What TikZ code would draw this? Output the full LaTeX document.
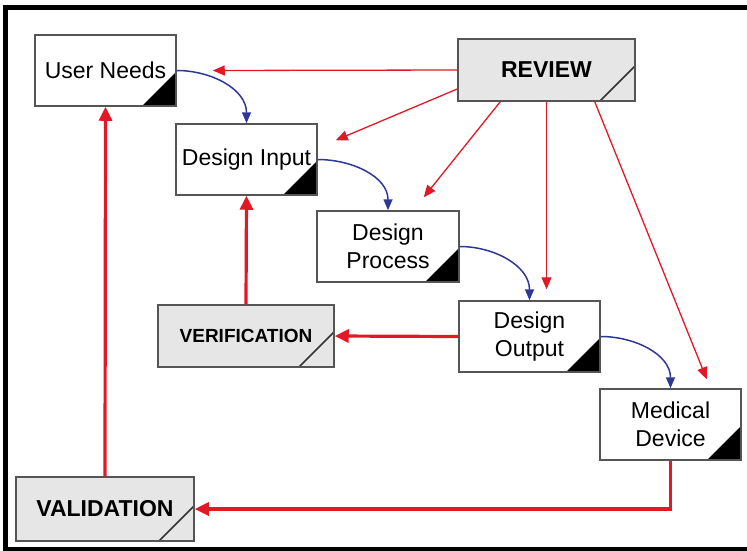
\documentclass[tikz,border=0pt]{standalone}
\usepackage{fontspec}
\setmainfont{Liberation Sans}
\usetikzlibrary{arrows.meta}

\definecolor{flowred}{RGB}{226,24,38}
\definecolor{flowblue}{RGB}{45,55,150}
\definecolor{boxgray}{RGB}{230,230,230}
\definecolor{edgegray}{RGB}{85,85,85}

\tikzset{
  stage/.style={draw=edgegray,line width=1.5pt,fill=white,minimum width=141pt,minimum height=71pt,
    align=center,inner sep=0pt,font=\fontsize{23}{28}\selectfont,
    path picture={\fill[black] (path picture bounding box.south east) -- ++(-34pt,0pt) -- ++(34pt,34pt) -- cycle;}},
  check/.style={draw=edgegray,line width=1.5pt,fill=boxgray,inner sep=0pt,font=\fontsize{23}{28}\selectfont\bfseries,
    path picture={\draw[line width=1.5pt,black!80] ([xshift=-35pt]path picture bounding box.south east) -- ([yshift=35pt]path picture bounding box.south east);}},
  blueflow/.style={flowblue,line width=1.5pt,-{Triangle[length=11pt,width=9pt]}},
  redthin/.style={flowred,line width=1.3pt,-{Triangle[length=12pt,width=10pt]}},
  redthick/.style={flowred,line width=3.2pt,-{Triangle[length=14pt,width=13pt]}}
}

\begin{document}
\begin{tikzpicture}[x=1pt,y=1pt]
\useasboundingbox (0,0) rectangle (747,-550);
\draw[line width=5pt] (747,-7.5) -- (5.5,-7.5) -- (5.5,-549.5) -- (747,-549.5);

\node[stage] (needs) at (105.5,-70.5) {User Needs};
\node[stage] (input) at (246.5,-159.5) {Design Input};
\node[stage,minimum width=142pt] (process) at (388,-246.5) {Design\\Process};
\node[stage] (output) at (529.5,-336.5) {Design\\Output};
\node[stage] (device) at (670.5,-424.5) {Medical\\Device};
\node[check,minimum width=177pt,minimum height=62pt] (review) at (546.5,-70) {REVIEW};
\node[check,minimum width=176pt,minimum height=62pt,font=\fontsize{19}{23}\selectfont\bfseries] (verif) at (246,-336) {VERIFICATION};
\node[check,minimum width=178pt,minimum height=64pt] (valid) at (105,-509) {VALIDATION};

\draw[blueflow] (needs.east) to[out=0,in=90] (input.north);
\draw[blueflow] (input.east) to[out=0,in=90] (process.north);
\draw[blueflow] (process.east) to[out=0,in=90] (output.north);
\draw[blueflow] (output.east) to[out=0,in=90] (device.north);

\draw[redthin] (review.west) -- ([xshift=36pt]needs.east);
\draw[redthin] ([yshift=-19pt]review.west) -- ([shift={(18pt,-17pt)}]input.north east);
\draw[redthin] ([xshift=43pt]review.south west) -- ([shift={(-36pt,13pt)}]process.north east);
\draw[redthin,shorten >=11pt] (review.south) -- (review.south |- output.north);
\draw[redthin] ([xshift=-41pt]review.south east) -- ([shift={(-35pt,9pt)}]device.north east);

\draw[redthick] (output.west) -- (verif.east);
\draw[redthick] (verif.north) -- (input.south);
\draw[redthick] (device.south) |- (valid.east);
\draw[redthick] (valid.north) -- (needs.south);
\end{tikzpicture}
\end{document}
